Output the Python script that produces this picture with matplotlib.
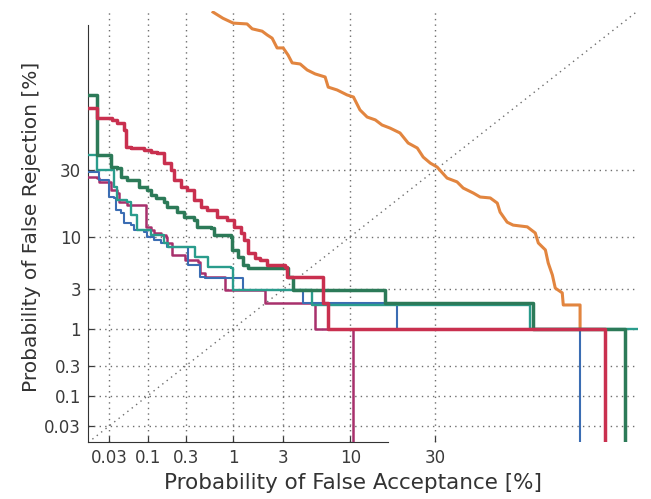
import numpy as np
import matplotlib
matplotlib.use("Agg")
import matplotlib.pyplot as plt
from statistics import NormalDist

# DET plot: probabilities in percent, drawn on normal-deviate (probit) axes
_nd = NormalDist()
_ppf = np.vectorize(_nd.inv_cdf, otypes=[float])
_cdf = np.vectorize(_nd.cdf, otypes=[float])


def probit(p):
    p = np.clip(np.asarray(p, dtype=float) / 100.0, 1e-10, 1 - 1e-10)
    return _ppf(p)


def inv_probit(z):
    return _cdf(np.asarray(z, dtype=float)) * 100.0


ticks = [0.03, 0.1, 0.3, 1, 3, 10, 30]
tick_labels = ["0.03", "0.1", "0.3", "1", "3", "10", "30"]

# random / chance curve (orange)
orange_fa = [0.61, 0.78, 1.0, 1.38, 1.55, 1.93, 2.15, 2.39, 2.65, 3.0, 3.31, 3.59, 4.19,
             4.78, 5.53, 6.6, 6.96, 8.09, 9.5, 10.5, 11.6, 12.9, 14.5, 15.9, 17.7, 20.1,
             22.2, 24.7, 26.4, 28.5, 30.6, 33.8, 37.1, 39.2, 42.7, 45.1, 48.7, 51.2, 52.2,
             54.7, 56.8, 61.7, 64.4, 65.4, 67.7, 68.6, 69.9, 70.8, 72.9, 73.2, 77.9, 77.9]
orange_fr = [89.8, 88.5, 87.4, 87.2, 86.0, 85.4, 84.4, 83.5, 80.6, 80.6, 78.3, 75.6, 75.2,
             73.0, 71.5, 70.3, 66.2, 65.0, 62.9, 62.0, 56.3, 53.1, 51.8, 49.5, 48.1, 45.9,
             41.4, 39.2, 35.3, 32.8, 31.2, 26.9, 25.5, 23.3, 21.6, 20.3, 20.0, 18.4, 15.8,
             13.2, 12.5, 12.1, 10.75, 8.8, 7.6, 5.7, 4.3, 3.1, 2.74, 1.98, 1.98, 1.02]

crimson_fa = [0.01, 0.0198, 0.0198, 0.0277, 0.0327, 0.0385, 0.048, 0.0513, 0.060, 0.090,
              0.111, 0.132, 0.162, 0.199, 0.216, 0.262, 0.309, 0.372, 0.449, 0.522, 0.673,
              0.863, 1.02, 1.20, 1.29, 1.41, 1.65, 1.84, 2.15, 3.12, 3.25, 6.37, 6.37, 6.95,
              6.95, 84.0, 84.0]
crimson_fr = [57.2, 57.2, 52.7, 52.7, 51.8, 50.4, 47.2, 39.6, 39.2, 38.3, 37.5, 37.0, 32.8,
              30.0, 26.2, 23.7, 22.6, 19.35, 17.3, 16.4, 14.5, 13.7, 12.1, 10.75, 9.36, 7.12,
              6.38, 6.1, 5.45, 5.2, 4.09, 4.09, 2.09, 2.09, 1.0, 1.0, 1e-4]

green_fa = [0.01, 0.0198, 0.0198, 0.0296, 0.0317, 0.0385, 0.0437, 0.053, 0.066, 0.077, 0.098,
            0.111, 0.129, 0.162, 0.177, 0.234, 0.285, 0.372, 0.403, 0.583, 0.626, 0.948,
            0.971, 1.12, 1.26, 1.41, 3.12, 3.32, 3.66, 3.66, 16.6, 16.6, 63.7, 63.7, 87.9, 87.9]
green_fr = [62.9, 62.9, 36.2, 36.2, 31.2, 30.8, 27.3, 26.2, 26.2, 23.7, 22.6, 20.95, 20.0,
            18.7, 17.3, 15.8, 14.5, 13.7, 12.1, 11.8, 10.3, 9.94, 7.6, 6.53, 5.45, 5.07, 5.07,
            4.09, 4.0, 2.95, 2.95, 2.09, 2.09, 1.0, 1.0, 1e-4]

teal_fa = [0.01, 0.0198, 0.0198, 0.035, 0.035, 0.0385, 0.053, 0.060, 0.072, 0.111, 0.162,
           0.182, 0.353, 0.382, 0.537, 0.537, 0.948, 0.995, 5.23, 5.23, 62.7, 62.7, 95.0]
teal_fr = [36.2, 36.2, 30.0, 29.2, 23.7, 19.35, 18.7, 15.0, 11.4, 10.3, 8.8, 8.09, 8.09, 6.53,
           6.38, 5.2, 5.07, 2.95, 2.95, 1.98, 1.98, 1.0, 1.0]

blue_fa = [0.01, 0.0213, 0.0213, 0.0296, 0.0296, 0.035, 0.0372, 0.0437, 0.048, 0.060, 0.066,
           0.090, 0.098, 0.121, 0.148, 0.177, 0.293, 0.318, 0.437, 0.437, 0.496, 1.17, 1.26,
           4.43, 4.43, 19.4, 19.4, 77.9, 77.9]
blue_fr = [29.2, 29.2, 26.2, 26.2, 20.3, 20.0, 16.4, 15.6, 13.0, 12.5, 11.4, 10.95, 9.94,
           9.36, 8.8, 8.09, 8.09, 5.45, 5.45, 4.09, 4.0, 4.0, 2.95, 2.95, 2.09, 2.09, 1.0,
           1.0, 1e-4]

magenta_fa = [0.01, 0.0198, 0.0213, 0.0296, 0.0317, 0.0385, 0.041, 0.053, 0.0955, 0.0955,
              0.111, 0.121, 0.148, 0.172, 0.177, 0.204, 0.204, 0.293, 0.293, 0.414, 0.437,
              0.496, 0.782, 0.82, 2.06, 2.06, 5.53, 5.53, 10.4, 10.4]
magenta_fr = [27.3, 26.9, 25.5, 25.5, 22.6, 21.6, 18.7, 17.8, 17.8, 12.1, 11.4, 10.75, 10.3,
              9.94, 8.8, 8.8, 6.81, 6.53, 6.1, 5.83, 4.51, 4.09, 4.09, 2.95, 2.95, 2.09, 1.98,
              1.0, 1.0, 1e-4]

xlim = (0.0146, 90.0)
ylim = (0.015, 90.0)

fig = plt.figure(figsize=(6.51, 4.99), dpi=100)
ax = fig.add_axes([0.1352, 0.1142, 0.8441, 0.8635])
ax.set_xscale("function", functions=(probit, inv_probit))
ax.set_yscale("function", functions=(probit, inv_probit))

grid_kw = dict(color="#6e6e6e", linestyle=(0, (1, 3)), linewidth=1.0, zorder=1)
for t in ticks:
    ax.axvline(t, **grid_kw)
    ax.axhline(t, **grid_kw)
ax.plot([xlim[0], xlim[1]], [xlim[0], xlim[1]], **grid_kw)

ax.plot(orange_fa, orange_fr, color="#e2853f", lw=2.2, zorder=3)
ax.plot(magenta_fa, magenta_fr, drawstyle="steps-post", color="#a8306c", lw=1.8, zorder=4)
ax.plot(blue_fa, blue_fr, drawstyle="steps-post", color="#3b6db3", lw=1.5, zorder=4)
ax.plot(teal_fa, teal_fr, drawstyle="steps-post", color="#2a9c8c", lw=1.7, zorder=4)
ax.plot(green_fa, green_fr, drawstyle="steps-post", color="#2c7a58", lw=2.5, zorder=5)
ax.plot(crimson_fa, crimson_fr, drawstyle="steps-post", color="#c9304f", lw=2.5, zorder=5)

ax.set_xlim(*xlim)
ax.set_ylim(*ylim)
ax.set_xticks(ticks)
ax.set_xticklabels(tick_labels)
ax.set_yticks(ticks)
ax.set_yticklabels(tick_labels)
ax.minorticks_off()
ax.tick_params(direction="in", length=4, width=0.9, colors="#3a3a3a", labelsize=12,
               pad=5)

for s in ("top", "right"):
    ax.spines[s].set_visible(False)
ax.spines["left"].set_bounds(ylim[0], 87)
ax.spines["bottom"].set_bounds(xlim[0], 17.3)
ax.spines["left"].set_color("#333333")
ax.spines["bottom"].set_color("#333333")

ax.set_xlabel("Probability of False Acceptance [%]", fontsize=15.5, color="#333333")
ax.set_ylabel("Probability of False Rejection [%]", fontsize=14.5, color="#333333")
ax.xaxis.set_label_coords(0.482, -0.072)
ax.yaxis.set_label_coords(-0.085, 0.5)

fig.savefig("out.png", dpi=100)
